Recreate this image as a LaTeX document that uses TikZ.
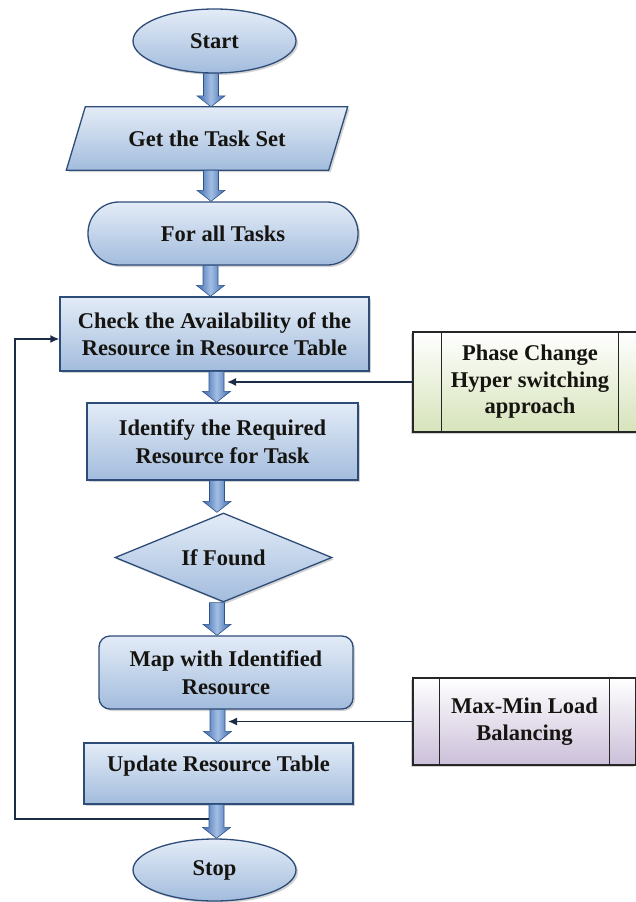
\documentclass[tikz,border=0pt]{standalone}
\usepackage{fontspec}
\setmainfont{Liberation Serif}
\usetikzlibrary{shapes.geometric,shadows,calc,arrows.meta}
\definecolor{boxlight}{HTML}{E3ECF7}
\definecolor{boxdark}{HTML}{A3BCDD}
\definecolor{boxline}{HTML}{2E4C78}
\definecolor{arrowedge}{HTML}{3A68AD}
\definecolor{arrowmid}{HTML}{A3BEE4}
\definecolor{greenfill}{HTML}{D6E3BA}
\definecolor{purplefill}{HTML}{CBBFD9}
\definecolor{linkline}{HTML}{1C2C46}
\definecolor{txt}{HTML}{161410}
\tikzset{
  flowbox/.style={draw=boxline, line width=1.3pt, top color=boxlight, bottom color=boxdark,
    drop shadow={opacity=0.35, shadow xshift=2pt, shadow yshift=-2pt},
    font=\fontsize{22.5}{27.5}\selectfont\bfseries, text=txt, align=center, inner sep=0pt},
  plainlabel/.style={font=\fontsize{22.5}{27.5}\selectfont\bfseries, text=txt, align=center, inner sep=0pt},
  procbox/.style={draw=black!85, line width=1.4pt, top color=white,
    drop shadow={opacity=0.35, shadow xshift=-2pt, shadow yshift=-2pt},
    font=\fontsize{22.5}{26.5}\selectfont\bfseries, text=txt, align=center, inner sep=0pt},
  barrowstyle/.style={draw=arrowedge!80!black, line width=0.6pt, left color=arrowedge,
    right color=arrowedge, middle color=arrowmid},
  linkarrow/.style={draw=linkline, line width=1.5pt, -{Latex[length=9pt,width=8pt]}},
}
\newcommand\blockarrow[3]{%
  \path[barrowstyle] let \p1=(#2), \p2=(#3) in
    (#1pt-7.5pt,\y1) -- (#1pt+7.5pt,\y1) -- (#1pt+7.5pt,\y2+11pt) -- (#1pt+14pt,\y2+11pt)
    -- (#1pt,\y2) -- (#1pt-14pt,\y2+11pt) -- (#1pt-7.5pt,\y2+11pt) -- cycle;}
\begin{document}
\begin{tikzpicture}[x=1pt,y=-1pt]
\useasboundingbox (0,0) rectangle (635,902);
% Start
\node[flowbox, ellipse, minimum width=163pt, minimum height=64pt] (start) at (214.5,41) {Start};
% Get the Task Set (parallelogram)
\node[minimum width=262pt, minimum height=63pt, inner sep=0pt] (task) at (207,138.5) {};
\path[flowbox] ([xshift=9.5pt]task.north west) -- ([xshift=9.5pt]task.north east)
  -- ([xshift=-9.5pt]task.south east) -- ([xshift=-9.5pt]task.south west) -- cycle;
\node[plainlabel] at (task.center) {Get the Task Set};
% For all Tasks
\node[flowbox, rectangle, rounded corners=31pt, minimum width=270pt, minimum height=63pt] (all) at (223,233.5) {For all Tasks};
% Check
\node[flowbox, rectangle, minimum width=309pt, minimum height=74pt] (check) at (214.5,334) {Check the Availability of the\\Resource in Resource Table};
% Identify
\node[flowbox, rectangle, minimum width=271pt, minimum height=77pt] (ident) at (222.5,441.5) {Identify the Required\\Resource for Task};
% If Found
\node[flowbox, diamond, aspect=2.44, minimum width=217pt, minimum height=89pt] (found) at (223.5,557.5) {If Found};
% Map
\node[flowbox, rectangle, rounded corners=11pt, minimum width=254pt, minimum height=73pt] (map) at (226,672.5) {Map with Identified\\Resource};
% Update
\node[flowbox, rectangle, minimum width=269pt, minimum height=61pt, text depth=20pt] (update) at (218.5,773.5) {Update Resource Table};
% Stop
\node[flowbox, ellipse, minimum width=163pt, minimum height=62pt] (stop) at (214.5,870) {Stop};
% side process boxes
\node[procbox, bottom color=greenfill, rectangle, minimum width=234pt, minimum height=100pt] (phase) at (530,382) {Phase Change\\Hyper switching\\approach};
\draw[black!85, line width=1.4pt] ([xshift=29pt]phase.north west) -- ([xshift=29pt]phase.south west);
\draw[black!85, line width=1.4pt] ([xshift=-29pt]phase.north east) -- ([xshift=-29pt]phase.south east);
\node[procbox, bottom color=purplefill, rectangle, minimum width=223pt, minimum height=87pt] (maxmin) at (524.5,721.5) {Max-Min Load\\Balancing};
\draw[black!85, line width=1.4pt] ([xshift=27pt]maxmin.north west) -- ([xshift=27pt]maxmin.south west);
\draw[black!85, line width=1.4pt] ([xshift=-27pt]maxmin.north east) -- ([xshift=-27pt]maxmin.south east);
% block arrows
\blockarrow{211}{start.south}{task.north}
\blockarrow{211}{task.south}{all.north}
\blockarrow{210.5}{all.south}{check.north}
\blockarrow{216.5}{check.south}{ident.north}
\blockarrow{217}{ident.south}{found.north}
\blockarrow{217}{found.south}{map.north}
\blockarrow{217.5}{map.south}{update.north}
\blockarrow{216.5}{update.south}{stop.north}
% connectors
\coordinate (j1) at (227,382);
\coordinate (j2) at (228,721.5);
\coordinate (j3) at (209,819);
\coordinate (corner) at (15,819);
\draw[linkarrow] (phase.west) -- (j1);
\draw[linkarrow] (maxmin.west) -- (j2);
\draw[linkarrow] (j3) -- (corner) |- ([yshift=-5pt]check.west);
\end{tikzpicture}
\end{document}
